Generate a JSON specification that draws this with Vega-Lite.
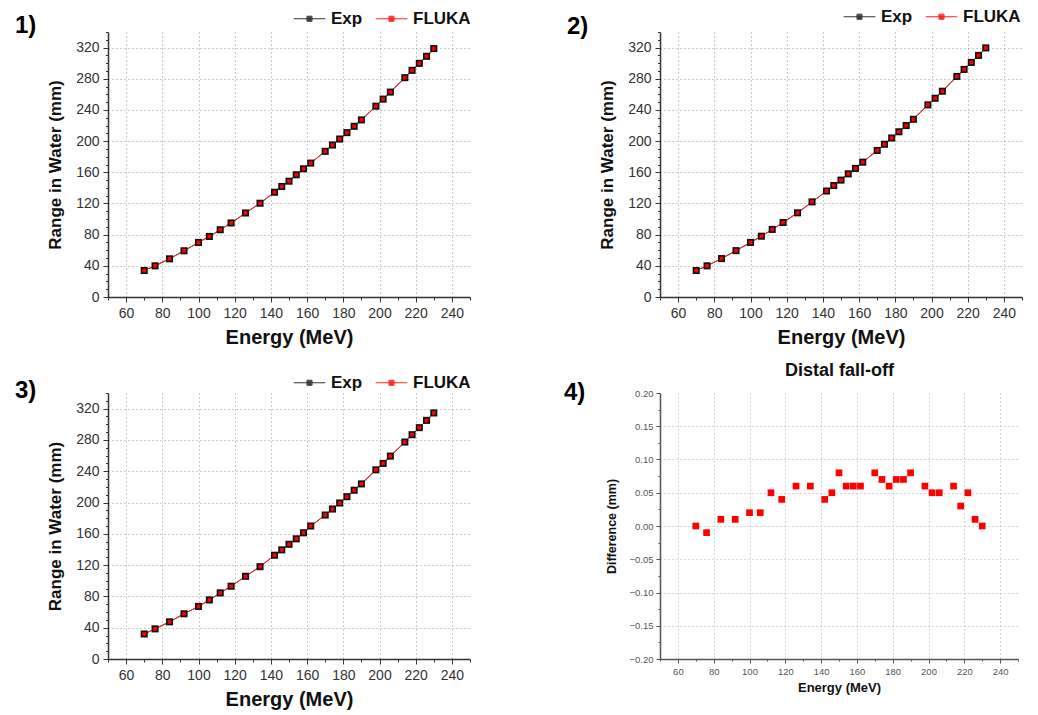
{
  "$schema": "https://vega.github.io/schema/vega-lite/v6.json",
  "background": "white",
  "padding": {"left": 15, "top": 0, "right": 5, "bottom": 5},
  "config": {"view": {"stroke": null}, "font": "Liberation Sans"},
  "datasets": {
    "ranges": [
      {"panel": 1, "energy": 70, "Exp": 34, "FLUKA": 34},
      {"panel": 1, "energy": 76, "Exp": 40, "FLUKA": 40},
      {"panel": 1, "energy": 84, "Exp": 49, "FLUKA": 49},
      {"panel": 1, "energy": 92, "Exp": 59.3, "FLUKA": 59.3},
      {"panel": 1, "energy": 100, "Exp": 70, "FLUKA": 70},
      {"panel": 1, "energy": 106, "Exp": 77.7, "FLUKA": 77.7},
      {"panel": 1, "energy": 112, "Exp": 86.3, "FLUKA": 86.3},
      {"panel": 1, "energy": 118, "Exp": 95, "FLUKA": 95},
      {"panel": 1, "energy": 126, "Exp": 107.8, "FLUKA": 107.8},
      {"panel": 1, "energy": 134, "Exp": 120.3, "FLUKA": 120.3},
      {"panel": 1, "energy": 142, "Exp": 134.4, "FLUKA": 134.4},
      {"panel": 1, "energy": 146, "Exp": 141.8, "FLUKA": 141.8},
      {"panel": 1, "energy": 150, "Exp": 148.6, "FLUKA": 148.6},
      {"panel": 1, "energy": 154, "Exp": 156.8, "FLUKA": 156.8},
      {"panel": 1, "energy": 158, "Exp": 164.5, "FLUKA": 164.5},
      {"panel": 1, "energy": 162, "Exp": 171.8, "FLUKA": 171.8},
      {"panel": 1, "energy": 170, "Exp": 186.9, "FLUKA": 186.9},
      {"panel": 1, "energy": 174, "Exp": 195, "FLUKA": 195},
      {"panel": 1, "energy": 178, "Exp": 202.7, "FLUKA": 202.7},
      {"panel": 1, "energy": 182, "Exp": 210.9, "FLUKA": 210.9},
      {"panel": 1, "energy": 186, "Exp": 219, "FLUKA": 219},
      {"panel": 1, "energy": 190, "Exp": 227.2, "FLUKA": 227.2},
      {"panel": 1, "energy": 198, "Exp": 244.8, "FLUKA": 244.8},
      {"panel": 1, "energy": 202, "Exp": 253.9, "FLUKA": 253.9},
      {"panel": 1, "energy": 206, "Exp": 262.9, "FLUKA": 262.9},
      {"panel": 1, "energy": 214, "Exp": 281.4, "FLUKA": 281.4},
      {"panel": 1, "energy": 218, "Exp": 290.8, "FLUKA": 290.8},
      {"panel": 1, "energy": 222, "Exp": 299.8, "FLUKA": 299.8},
      {"panel": 1, "energy": 226, "Exp": 308.8, "FLUKA": 308.8},
      {"panel": 1, "energy": 230, "Exp": 318.7, "FLUKA": 318.7},
      {"panel": 2, "energy": 70, "Exp": 34, "FLUKA": 34},
      {"panel": 2, "energy": 76, "Exp": 40, "FLUKA": 40},
      {"panel": 2, "energy": 84, "Exp": 49.3, "FLUKA": 49.3},
      {"panel": 2, "energy": 92, "Exp": 59.5, "FLUKA": 59.5},
      {"panel": 2, "energy": 100, "Exp": 70, "FLUKA": 70},
      {"panel": 2, "energy": 106, "Exp": 78, "FLUKA": 78},
      {"panel": 2, "energy": 112, "Exp": 86.7, "FLUKA": 86.7},
      {"panel": 2, "energy": 118, "Exp": 95.6, "FLUKA": 95.6},
      {"panel": 2, "energy": 126, "Exp": 108, "FLUKA": 108},
      {"panel": 2, "energy": 134, "Exp": 122, "FLUKA": 122},
      {"panel": 2, "energy": 142, "Exp": 136, "FLUKA": 136},
      {"panel": 2, "energy": 146, "Exp": 143, "FLUKA": 143},
      {"panel": 2, "energy": 150, "Exp": 150, "FLUKA": 150},
      {"panel": 2, "energy": 154, "Exp": 158, "FLUKA": 158},
      {"panel": 2, "energy": 158, "Exp": 165, "FLUKA": 165},
      {"panel": 2, "energy": 162, "Exp": 173, "FLUKA": 173},
      {"panel": 2, "energy": 170, "Exp": 188, "FLUKA": 188},
      {"panel": 2, "energy": 174, "Exp": 196, "FLUKA": 196},
      {"panel": 2, "energy": 178, "Exp": 204, "FLUKA": 204},
      {"panel": 2, "energy": 182, "Exp": 212, "FLUKA": 212},
      {"panel": 2, "energy": 186, "Exp": 220, "FLUKA": 220},
      {"panel": 2, "energy": 190, "Exp": 228, "FLUKA": 228},
      {"panel": 2, "energy": 198, "Exp": 246.5, "FLUKA": 246.5},
      {"panel": 2, "energy": 202, "Exp": 255, "FLUKA": 255},
      {"panel": 2, "energy": 206, "Exp": 264, "FLUKA": 264},
      {"panel": 2, "energy": 214, "Exp": 283, "FLUKA": 283},
      {"panel": 2, "energy": 218, "Exp": 292, "FLUKA": 292},
      {"panel": 2, "energy": 222, "Exp": 301, "FLUKA": 301},
      {"panel": 2, "energy": 226, "Exp": 310, "FLUKA": 310},
      {"panel": 2, "energy": 230, "Exp": 319.6, "FLUKA": 319.6},
      {"panel": 3, "energy": 70, "Exp": 32, "FLUKA": 32},
      {"panel": 3, "energy": 76, "Exp": 38.5, "FLUKA": 38.5},
      {"panel": 3, "energy": 84, "Exp": 47.5, "FLUKA": 47.5},
      {"panel": 3, "energy": 92, "Exp": 57.8, "FLUKA": 57.8},
      {"panel": 3, "energy": 100, "Exp": 67.2, "FLUKA": 67.2},
      {"panel": 3, "energy": 106, "Exp": 75.5, "FLUKA": 75.5},
      {"panel": 3, "energy": 112, "Exp": 84.5, "FLUKA": 84.5},
      {"panel": 3, "energy": 118, "Exp": 93, "FLUKA": 93},
      {"panel": 3, "energy": 126, "Exp": 105.7, "FLUKA": 105.7},
      {"panel": 3, "energy": 134, "Exp": 118, "FLUKA": 118},
      {"panel": 3, "energy": 142, "Exp": 132.6, "FLUKA": 132.6},
      {"panel": 3, "energy": 146, "Exp": 139.5, "FLUKA": 139.5},
      {"panel": 3, "energy": 150, "Exp": 146.6, "FLUKA": 146.6},
      {"panel": 3, "energy": 154, "Exp": 153.6, "FLUKA": 153.6},
      {"panel": 3, "energy": 158, "Exp": 161.3, "FLUKA": 161.3},
      {"panel": 3, "energy": 162, "Exp": 170, "FLUKA": 170},
      {"panel": 3, "energy": 170, "Exp": 184, "FLUKA": 184},
      {"panel": 3, "energy": 174, "Exp": 191.7, "FLUKA": 191.7},
      {"panel": 3, "energy": 178, "Exp": 199.4, "FLUKA": 199.4},
      {"panel": 3, "energy": 182, "Exp": 207.5, "FLUKA": 207.5},
      {"panel": 3, "energy": 186, "Exp": 215.7, "FLUKA": 215.7},
      {"panel": 3, "energy": 190, "Exp": 223.8, "FLUKA": 223.8},
      {"panel": 3, "energy": 198, "Exp": 241.8, "FLUKA": 241.8},
      {"panel": 3, "energy": 202, "Exp": 250, "FLUKA": 250},
      {"panel": 3, "energy": 206, "Exp": 259.3, "FLUKA": 259.3},
      {"panel": 3, "energy": 214, "Exp": 277.3, "FLUKA": 277.3},
      {"panel": 3, "energy": 218, "Exp": 286.7, "FLUKA": 286.7},
      {"panel": 3, "energy": 222, "Exp": 295.7, "FLUKA": 295.7},
      {"panel": 3, "energy": 226, "Exp": 305, "FLUKA": 305},
      {"panel": 3, "energy": 230, "Exp": 314.5, "FLUKA": 314.5}
    ],
    "diff": [
      {"energy": 70, "diff": 0.0}, {"energy": 76, "diff": -0.01}, {"energy": 84, "diff": 0.01},
      {"energy": 92, "diff": 0.01}, {"energy": 100, "diff": 0.02}, {"energy": 106, "diff": 0.02},
      {"energy": 112, "diff": 0.05}, {"energy": 118, "diff": 0.04}, {"energy": 126, "diff": 0.06},
      {"energy": 134, "diff": 0.06}, {"energy": 142, "diff": 0.04}, {"energy": 146, "diff": 0.05},
      {"energy": 150, "diff": 0.08}, {"energy": 154, "diff": 0.06}, {"energy": 158, "diff": 0.06},
      {"energy": 162, "diff": 0.06}, {"energy": 170, "diff": 0.08}, {"energy": 174, "diff": 0.07},
      {"energy": 178, "diff": 0.06}, {"energy": 182, "diff": 0.07}, {"energy": 186, "diff": 0.07},
      {"energy": 190, "diff": 0.08}, {"energy": 198, "diff": 0.06}, {"energy": 202, "diff": 0.05},
      {"energy": 206, "diff": 0.05}, {"energy": 214, "diff": 0.06}, {"energy": 218, "diff": 0.03},
      {"energy": 222, "diff": 0.05}, {"energy": 226, "diff": 0.01}, {"energy": 230, "diff": 0.0}
    ]
  },
  "columns": 2,
  "bounds": "flush",
  "spacing": {"row": 96, "column": 190},
  "resolve": {
    "scale": {"color": "independent"},
    "legend": {"color": "independent"}
  },
  "concat": [
    {
      "width": 362, "height": 265,
      "title": {"text": "1)", "anchor": "start", "frame": "group", "dx": -93, "offset": -55, "baseline": "alphabetic", "fontSize": 24, "font": "Liberation Sans", "fontWeight": "bold", "color": "#000"},
      "data": {"name": "ranges"},
      "transform": [{"filter": "datum.panel == 1"}, {"fold": ["Exp", "FLUKA"], "as": ["series", "range"]}],
      "encoding": {
        "x": {"field": "energy", "type": "quantitative", "scale": {"domain": [50, 250], "nice": false, "zero": false},
          "axis": {"values": [50,60,70,80,90,100,110,120,130,140,150,160,170,180,190,200,210,220,230,240,250],
            "labelExpr": "datum.value % 20 == 0 ? datum.label : ''", "labelOverlap": false, "labelFlush": false,
            "title": "Energy (MeV)", "titleFont": "Liberation Sans", "titleFontSize": 20, "titleFontWeight": "bold", "titleColor": "#111", "titlePadding": 7,
            "labelFont": "Liberation Sans", "labelFontSize": 14, "labelColor": "#333", "labelPadding": 4,
            "domainColor": "#333", "domainWidth": 1.5, "tickColor": "#333", "tickWidth": 1,
            "tickSize": {"condition": {"test": "datum.value % 20 == 0", "value": 5}, "value": 3},
            "grid": true, "gridColor": "#999", "gridDash": [1, 3], "gridWidth": 1,
            "gridOpacity": {"condition": {"test": "datum.value % 20 == 0", "value": 1}, "value": 0}}},
        "y": {"field": "range", "type": "quantitative", "scale": {"domain": [0, 340], "nice": false},
          "axis": {"values": [0,10,20,30,40,50,60,70,80,90,100,110,120,130,140,150,160,170,180,190,200,210,220,230,240,250,260,270,280,290,300,310,320,330,340],
            "labelExpr": "datum.value % 40 == 0 ? datum.label : ''", "labelOverlap": false, "labelFlush": false,
            "title": "Range in Water (mm)", "titleFont": "Liberation Sans", "titleFontSize": 17, "titleFontWeight": "bold", "titleColor": "#111", "titlePadding": 11,
            "labelFont": "Liberation Sans", "labelFontSize": 14, "labelColor": "#333", "labelPadding": 4,
            "domainColor": "#333", "domainWidth": 1.5, "tickColor": "#333", "tickWidth": 1,
            "tickSize": {"condition": {"test": "datum.value % 40 == 0", "value": 5}, "value": 2.5},
            "grid": true, "gridColor": "#999", "gridDash": [1, 3], "gridWidth": 1,
            "gridOpacity": {"condition": {"test": "datum.value % 40 == 0 && datum.value > 0", "value": 1}, "value": 0}}}
      },
      "layer": [
        {"mark": {"type": "line", "strokeWidth": 1},
          "encoding": {"color": {"field": "series", "type": "nominal", "scale": {"domain": ["Exp", "FLUKA"], "range": ["#333333", "#ff2020"]},
            "legend": {"title": null, "orient": "none", "legendX": 185, "legendY": -30, "direction": "horizontal", "symbolType": "M-1,0H1M-0.16,-0.16H0.16V0.16H-0.16ZM-0.11,-0.11H0.11V0.11H-0.11ZM-0.06,-0.06H0.06V0.06H-0.06ZM-0.02,-0.02H0.02V0.02H-0.02Z", "symbolSize": 1000, "symbolStrokeWidth": 1, "labelFont": "Liberation Sans", "labelFontSize": 17, "labelFontWeight": "bold", "labelColor": "#111", "labelOffset": 5, "columnPadding": 10, "padding": 0}}}},
        {"transform": [{"filter": "datum.series == 'Exp'"}], "mark": {"type": "point", "shape": "square", "filled": true, "color": "#111111", "size": 50, "opacity": 1}},
        {"transform": [{"filter": "datum.series == 'FLUKA'"}], "mark": {"type": "point", "shape": "square", "filled": true, "color": "#ff0000", "size": 14, "opacity": 1}}
      ]
    },
    {
      "width": 362, "height": 265,
      "title": {"text": "2)", "anchor": "start", "frame": "group", "dx": -93, "offset": -58, "baseline": "alphabetic", "fontSize": 24, "font": "Liberation Sans", "fontWeight": "bold", "color": "#000"},
      "data": {"name": "ranges"},
      "transform": [{"filter": "datum.panel == 2"}, {"fold": ["Exp", "FLUKA"], "as": ["series", "range"]}],
      "encoding": {
        "x": {"field": "energy", "type": "quantitative", "scale": {"domain": [50, 250], "nice": false, "zero": false},
          "axis": {"values": [50,60,70,80,90,100,110,120,130,140,150,160,170,180,190,200,210,220,230,240,250],
            "labelExpr": "datum.value % 20 == 0 ? datum.label : ''", "labelOverlap": false, "labelFlush": false,
            "title": "Energy (MeV)", "titleFont": "Liberation Sans", "titleFontSize": 20, "titleFontWeight": "bold", "titleColor": "#111", "titlePadding": 7,
            "labelFont": "Liberation Sans", "labelFontSize": 14, "labelColor": "#333", "labelPadding": 4,
            "domainColor": "#333", "domainWidth": 1.5, "tickColor": "#333", "tickWidth": 1,
            "tickSize": {"condition": {"test": "datum.value % 20 == 0", "value": 5}, "value": 3},
            "grid": true, "gridColor": "#999", "gridDash": [1, 3], "gridWidth": 1,
            "gridOpacity": {"condition": {"test": "datum.value % 20 == 0", "value": 1}, "value": 0}}},
        "y": {"field": "range", "type": "quantitative", "scale": {"domain": [0, 340], "nice": false},
          "axis": {"values": [0,10,20,30,40,50,60,70,80,90,100,110,120,130,140,150,160,170,180,190,200,210,220,230,240,250,260,270,280,290,300,310,320,330,340],
            "labelExpr": "datum.value % 40 == 0 ? datum.label : ''", "labelOverlap": false, "labelFlush": false,
            "title": "Range in Water (mm)", "titleFont": "Liberation Sans", "titleFontSize": 17, "titleFontWeight": "bold", "titleColor": "#111", "titlePadding": 11,
            "labelFont": "Liberation Sans", "labelFontSize": 14, "labelColor": "#333", "labelPadding": 4,
            "domainColor": "#333", "domainWidth": 1.5, "tickColor": "#333", "tickWidth": 1,
            "tickSize": {"condition": {"test": "datum.value % 40 == 0", "value": 5}, "value": 2.5},
            "grid": true, "gridColor": "#999", "gridDash": [1, 3], "gridWidth": 1,
            "gridOpacity": {"condition": {"test": "datum.value % 40 == 0 && datum.value > 0", "value": 1}, "value": 0}}}
      },
      "layer": [
        {"mark": {"type": "line", "strokeWidth": 1},
          "encoding": {"color": {"field": "series", "type": "nominal", "scale": {"domain": ["Exp", "FLUKA"], "range": ["#333333", "#ff2020"]},
            "legend": {"title": null, "orient": "none", "legendX": 183, "legendY": -32, "direction": "horizontal", "symbolType": "M-1,0H1M-0.16,-0.16H0.16V0.16H-0.16ZM-0.11,-0.11H0.11V0.11H-0.11ZM-0.06,-0.06H0.06V0.06H-0.06ZM-0.02,-0.02H0.02V0.02H-0.02Z", "symbolSize": 1000, "symbolStrokeWidth": 1, "labelFont": "Liberation Sans", "labelFontSize": 17, "labelFontWeight": "bold", "labelColor": "#111", "labelOffset": 5, "columnPadding": 10, "padding": 0}}}},
        {"transform": [{"filter": "datum.series == 'Exp'"}], "mark": {"type": "point", "shape": "square", "filled": true, "color": "#111111", "size": 50, "opacity": 1}},
        {"transform": [{"filter": "datum.series == 'FLUKA'"}], "mark": {"type": "point", "shape": "square", "filled": true, "color": "#ff0000", "size": 14, "opacity": 1}}
      ]
    },
    {
      "width": 362, "height": 266,
      "title": {"text": "3)", "anchor": "start", "frame": "group", "dx": -93, "offset": -56, "baseline": "alphabetic", "fontSize": 24, "font": "Liberation Sans", "fontWeight": "bold", "color": "#000"},
      "data": {"name": "ranges"},
      "transform": [{"filter": "datum.panel == 3"}, {"fold": ["Exp", "FLUKA"], "as": ["series", "range"]}],
      "encoding": {
        "x": {"field": "energy", "type": "quantitative", "scale": {"domain": [50, 250], "nice": false, "zero": false},
          "axis": {"values": [50,60,70,80,90,100,110,120,130,140,150,160,170,180,190,200,210,220,230,240,250],
            "labelExpr": "datum.value % 20 == 0 ? datum.label : ''", "labelOverlap": false, "labelFlush": false,
            "title": "Energy (MeV)", "titleFont": "Liberation Sans", "titleFontSize": 20, "titleFontWeight": "bold", "titleColor": "#111", "titlePadding": 7,
            "labelFont": "Liberation Sans", "labelFontSize": 14, "labelColor": "#333", "labelPadding": 4,
            "domainColor": "#333", "domainWidth": 1.5, "tickColor": "#333", "tickWidth": 1,
            "tickSize": {"condition": {"test": "datum.value % 20 == 0", "value": 5}, "value": 3},
            "grid": true, "gridColor": "#999", "gridDash": [1, 3], "gridWidth": 1,
            "gridOpacity": {"condition": {"test": "datum.value % 20 == 0", "value": 1}, "value": 0}}},
        "y": {"field": "range", "type": "quantitative", "scale": {"domain": [0, 340], "nice": false},
          "axis": {"values": [0,10,20,30,40,50,60,70,80,90,100,110,120,130,140,150,160,170,180,190,200,210,220,230,240,250,260,270,280,290,300,310,320,330,340],
            "labelExpr": "datum.value % 40 == 0 ? datum.label : ''", "labelOverlap": false, "labelFlush": false,
            "title": "Range in Water (mm)", "titleFont": "Liberation Sans", "titleFontSize": 17, "titleFontWeight": "bold", "titleColor": "#111", "titlePadding": 11,
            "labelFont": "Liberation Sans", "labelFontSize": 14, "labelColor": "#333", "labelPadding": 4,
            "domainColor": "#333", "domainWidth": 1.5, "tickColor": "#333", "tickWidth": 1,
            "tickSize": {"condition": {"test": "datum.value % 40 == 0", "value": 5}, "value": 2.5},
            "grid": true, "gridColor": "#999", "gridDash": [1, 3], "gridWidth": 1,
            "gridOpacity": {"condition": {"test": "datum.value % 40 == 0 && datum.value > 0", "value": 1}, "value": 0}}}
      },
      "layer": [
        {"mark": {"type": "line", "strokeWidth": 1},
          "encoding": {"color": {"field": "series", "type": "nominal", "scale": {"domain": ["Exp", "FLUKA"], "range": ["#333333", "#ff2020"]},
            "legend": {"title": null, "orient": "none", "legendX": 185, "legendY": -27, "direction": "horizontal", "symbolType": "M-1,0H1M-0.16,-0.16H0.16V0.16H-0.16ZM-0.11,-0.11H0.11V0.11H-0.11ZM-0.06,-0.06H0.06V0.06H-0.06ZM-0.02,-0.02H0.02V0.02H-0.02Z", "symbolSize": 1000, "symbolStrokeWidth": 1, "labelFont": "Liberation Sans", "labelFontSize": 17, "labelFontWeight": "bold", "labelColor": "#111", "labelOffset": 5, "columnPadding": 10, "padding": 0}}}},
        {"transform": [{"filter": "datum.series == 'Exp'"}], "mark": {"type": "point", "shape": "square", "filled": true, "color": "#111111", "size": 50, "opacity": 1}},
        {"transform": [{"filter": "datum.series == 'FLUKA'"}], "mark": {"type": "point", "shape": "square", "filled": true, "color": "#ff0000", "size": 14, "opacity": 1}}
      ]
    },
    {
      "width": 358, "height": 266,
      "title": {"text": "4)", "anchor": "start", "frame": "group", "dx": -96, "offset": -63, "baseline": "alphabetic", "fontSize": 24, "font": "Liberation Sans", "fontWeight": "bold", "color": "#000"},
      "data": {"name": "diff"},
      "encoding": {
        "y": {"field": "diff", "type": "quantitative", "scale": {"domain": [-0.2, 0.2], "nice": false, "zero": false},
          "axis": {"values": [-0.2,-0.175,-0.15,-0.125,-0.1,-0.075,-0.05,-0.025,0,0.025,0.05,0.075,0.1,0.125,0.15,0.175,0.2],
            "format": ".2f", "labelExpr": "abs(round(datum.value*40)) % 2 == 0 ? datum.label : ''", "labelOverlap": false, "labelFlush": false, "labelBound": false,
            "title": "Difference (mm)", "titleFont": "Liberation Sans", "titleFontSize": 12.5, "titleFontWeight": "bold", "titleColor": "#111", "titlePadding": 10,
            "labelFont": "Liberation Sans", "labelFontSize": 9.5, "labelColor": "#555", "labelPadding": 3,
            "domainColor": "#555", "domainWidth": 1.5, "tickColor": "#555", "tickWidth": 1,
            "tickSize": {"condition": {"test": "abs(round(datum.value*40)) % 2 == 0", "value": 4}, "value": 2},
            "grid": true, "gridColor": "#aaa", "gridDash": [1, 3], "gridWidth": 1,
            "gridOpacity": {"condition": {"test": "abs(round(datum.value*40)) % 2 == 0 && abs(datum.value) < 0.19", "value": 1}, "value": 0}}}
      },
      "layer": [
        {"mark": {"type": "square", "color": "#ff0000", "size": 45, "opacity": 1},
          "encoding": {
            "x": {"field": "energy", "type": "quantitative", "scale": {"domain": [50, 250], "nice": false, "zero": false},
              "axis": {"values": [50,60,70,80,90,100,110,120,130,140,150,160,170,180,190,200,210,220,230,240,250],
                "labelExpr": "datum.value % 20 == 0 ? datum.label : ''", "labelOverlap": false, "labelFlush": false,
                "title": "Energy (MeV)", "titleFont": "Liberation Sans", "titleFontSize": 13, "titleFontWeight": "bold", "titleColor": "#111", "titlePadding": 6,
                "labelFont": "Liberation Sans", "labelFontSize": 9.5, "labelColor": "#555", "labelPadding": 3,
                "domainColor": "#555", "domainWidth": 1.5, "tickColor": "#555", "tickWidth": 1,
                "tickSize": {"condition": {"test": "datum.value % 20 == 0", "value": 4}, "value": 2},
                "grid": true, "gridColor": "#aaa", "gridDash": [1, 3], "gridWidth": 1,
                "gridOpacity": {"condition": {"test": "datum.value % 20 == 0", "value": 1}, "value": 0}}}
          }},
        {"mark": {"type": "point", "opacity": 0},
          "encoding": {
            "x": {"field": "energy", "type": "quantitative",
              "axis": {"orient": "top", "title": "Distal fall-off", "labels": false, "ticks": false, "domain": false, "grid": false,
                "titleFont": "Liberation Sans", "titleFontSize": 18, "titleFontWeight": "bold", "titleColor": "#111", "titlePadding": 14}}
          }}
      ],
      "resolve": {"axis": {"x": "independent"}}
    }
  ]
}
